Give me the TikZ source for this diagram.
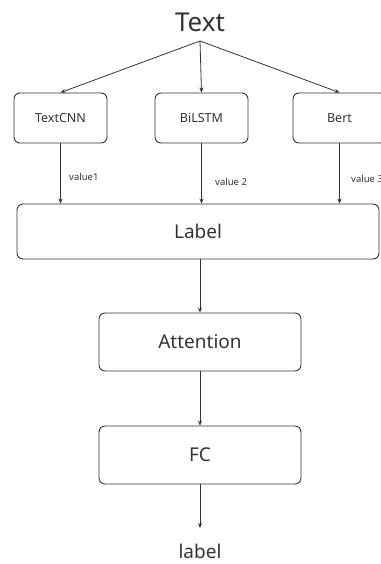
\documentclass[tikz,border=0pt]{standalone}
\usepackage{fontspec}
\setmainfont{Noto Sans}
\usetikzlibrary{arrows.meta}
\definecolor{ink}{HTML}{333333}
\begin{document}
\begin{tikzpicture}[x=1pt,y=-1pt,
  box/.style={draw=ink,line width=0.9pt,rounded corners=6pt,text=ink,inner sep=0pt},
  arr/.style={draw=ink,line width=0.8pt,-{Stealth[length=5pt,width=4pt]}},
  vlab/.style={text=ink,font=\fontsize{9.5}{11}\selectfont,inner sep=0pt,anchor=west}]
\useasboundingbox (0,0) rectangle (380,564);
\node[text=ink,font=\fontsize{26}{30}\selectfont] (text) at (200,22) {Text};
\coordinate (top) at (200,41);
\node[box,minimum width=93pt,minimum height=50pt,font=\fontsize{12.5}{15}\selectfont] (cnn) at (60.5,118) {TextCNN};
\node[box,minimum width=93pt,minimum height=50pt,font=\fontsize{12.5}{15}\selectfont] (bil) at (201.5,118) {BiLSTM};
\node[box,minimum width=93pt,minimum height=50pt,font=\fontsize{12.5}{15}\selectfont] (bert) at (339.5,118) {Bert};
\node[box,minimum width=362pt,minimum height=55pt,font=\fontsize{19}{23}\selectfont] (lab) at (198,231.5) {Label};
\node[box,minimum width=202pt,minimum height=58pt,font=\fontsize{19}{23}\selectfont] (att) at (200,342) {Attention};
\node[box,minimum width=202pt,minimum height=58pt,font=\fontsize{19}{23}\selectfont] (fc) at (200,455) {FC};
\node[text=ink,font=\fontsize{19}{23}\selectfont,inner sep=0pt] (out) at (200,551) {label};
\coordinate (outtop) at (200,528);
\draw[arr] (top) -- (cnn.north);
\draw[arr] (top) -- (bil.north);
\draw[arr] (top) -- (bert.north);
\draw[arr] (cnn.south) -- (cnn.south |- lab.north);
\draw[arr] (bil.south) -- (bil.south |- lab.north);
\draw[arr] (bert.south) -- (bert.south |- lab.north);
\node[vlab] (v1) at (69,177) {value1};
\node[vlab] (v2) at (215,182) {value 2};
\node[vlab] (v3) at (351,179) {value 3};
\draw[arr] (lab.south -| att.north) -- (att.north);
\draw[arr] (att.south) -- (fc.north);
\draw[arr] (fc.south) -- (outtop);
\end{tikzpicture}
\end{document}
